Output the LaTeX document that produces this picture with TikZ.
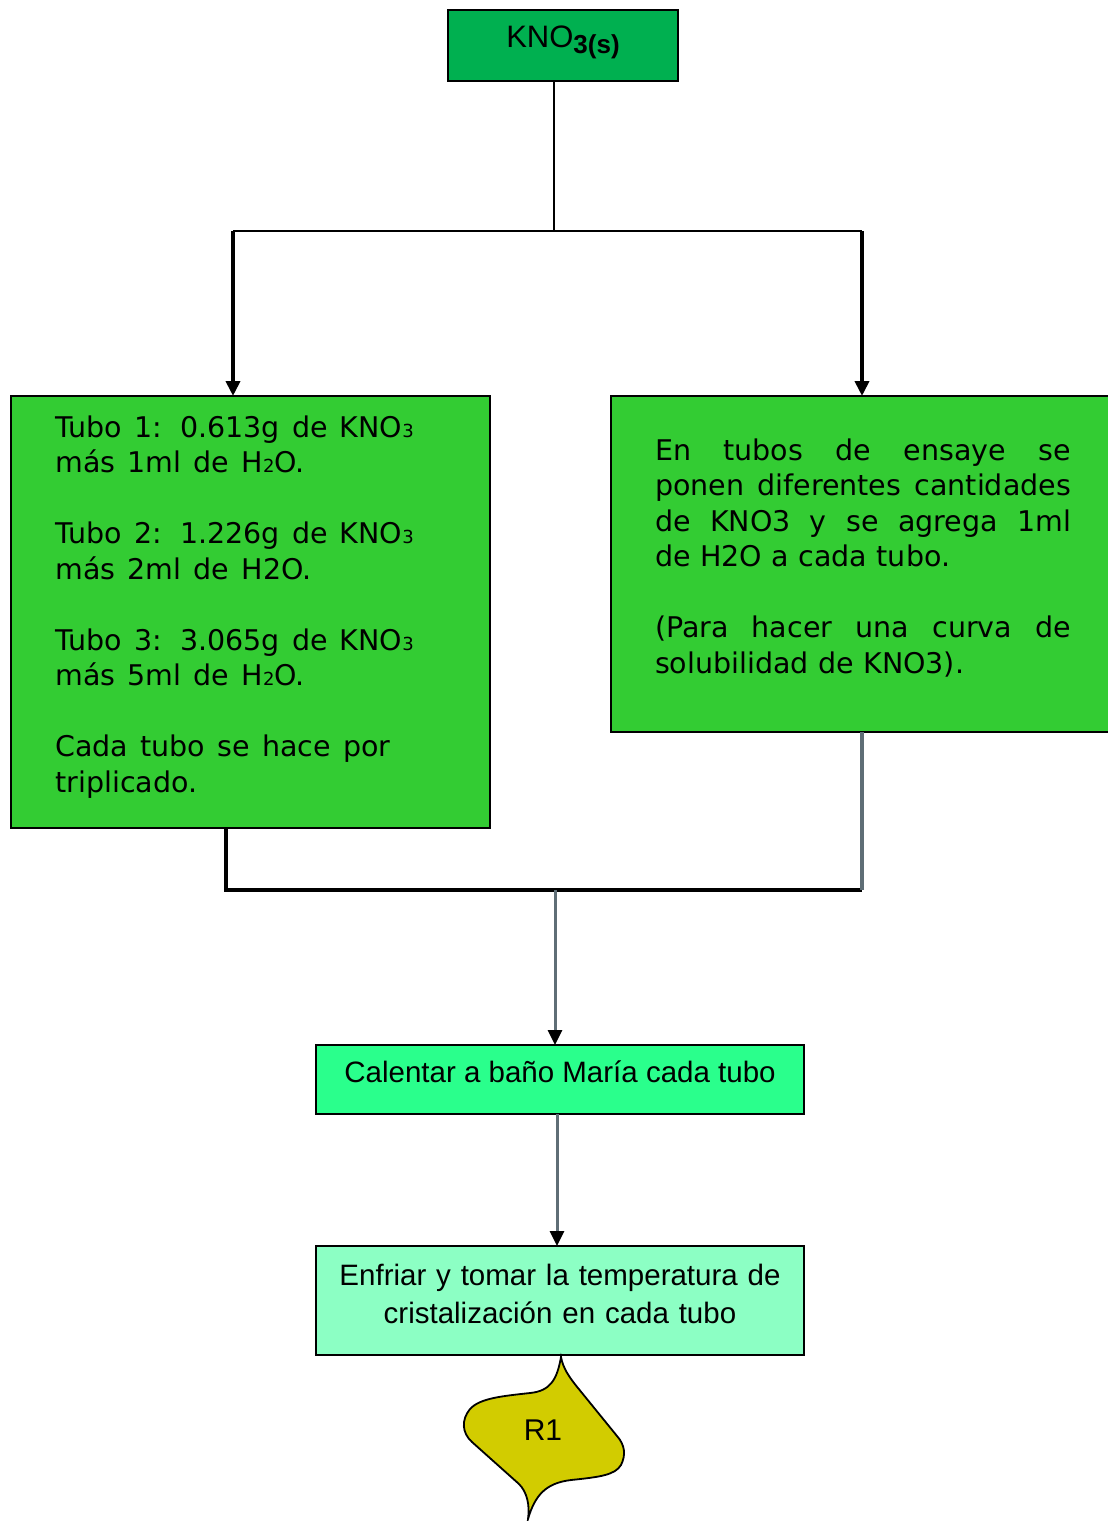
\documentclass[tikz,border=0pt]{standalone}
\usepackage{fontspec}
\setmainfont{DejaVu Sans}
\newfontfamily\arialish{Liberation Sans}
\usetikzlibrary{arrows.meta}

\definecolor{knogreen}{RGB}{0,176,80}
\definecolor{boxgreen}{RGB}{51,204,51}
\definecolor{heatgreen}{RGB}{42,255,140}
\definecolor{coolgreen}{RGB}{140,255,196}
\definecolor{tapeyellow}{RGB}{210,204,0}
\definecolor{linegray}{RGB}{95,110,118}

% small digit used for the chemical formulas
\newcommand\lowsub[1]{{\fontsize{18}{18}\selectfont #1}}
% a line stretched to the full text width
\newcommand\fullline[1]{\makebox[416pt]{#1}}

\begin{document}
\begin{tikzpicture}[x=1pt,y=-1pt,
  stepbox/.style={draw=black,line width=2.5pt,inner sep=0pt,outer sep=0pt,anchor=north west},
  bodytext/.style={font=\fontsize{28.5}{35.5}\selectfont,text height=21.7pt},
  thinline/.style={draw=black,line width=2.5pt},
  joinline/.style={draw=black,line width=3.5pt},
  grayjoin/.style={draw=linegray,line width=3.5pt},
  downarrow/.style={draw=black,line width=4pt,-{Triangle[length=15pt,width=14pt]}},
  grayarrow/.style={draw=linegray,line width=3pt,-{Triangle[length=15pt,width=14pt,color=black]}}]

\clip (0,0) rectangle (1108,1521);
\fill[white] (0,0) rectangle (1108,1521);

% starting salt
\node[stepbox,fill=knogreen,minimum width=230pt,minimum height=71pt,
      font=\arialish\fontsize{31}{36}\selectfont,text height=22pt,text depth=19pt]
  (kno) at (448,10) {KNO\raisebox{-6pt}{\fontsize{26}{30}\selectfont\bfseries 3(s)}};

% the two ways of preparing the tubes
\node[stepbox,fill=boxgreen,minimum width=479pt,minimum height=432pt,
      text width=390pt,align=left,bodytext,text depth=371.7pt]
  (left) at (11,396) {\spaceskip=0.43em plus 0.1em\relax
Tubo 1:\hspace{18pt}0.613g de KNO\lowsub{3}\\
más 1ml de H\lowsub{2}O.\\[35.5pt]
Tubo 2:\hspace{18pt}1.226g de KNO\lowsub{3}\\
más 2ml de H2O.\\[35.5pt]
Tubo 3:\hspace{18pt}3.065g de KNO\lowsub{3}\\
más 5ml de H\lowsub{2}O.\\[35.5pt]
Cada tubo se hace por\\
triplicado.};

\node[stepbox,fill=boxgreen,minimum width=504pt,minimum height=336pt,
      text width=416pt,align=left,bodytext,text depth=229.7pt]
  (right) at (611,396) {%
\fullline{En\hfill tubos\hfill de\hfill ensaye\hfill se}\\
\fullline{ponen\hfill diferentes\hfill cantidades}\\
\fullline{de\hfill KNO3\hfill y\hfill se\hfill agrega\hfill 1ml}\\
de H2O a cada tubo.\\[35.5pt]
\fullline{(Para\hfill hacer\hfill una\hfill curva\hfill de}\\
solubilidad de KNO3).};

% heating and cooling
\node[stepbox,fill=heatgreen,minimum width=488pt,minimum height=69pt,
      font=\arialish\fontsize{29.5}{38}\selectfont,text height=21pt,text depth=16pt]
  (heat) at (316,1045) {Calentar a baño María cada tubo};

\node[stepbox,fill=coolgreen,minimum width=488pt,minimum height=109pt,
      text width=470pt,align=center,
      font=\arialish\fontsize{29.5}{38}\selectfont,text height=21.5pt,text depth=52.5pt]
  (cool) at (316,1246) {Enfriar y tomar la temperatura de\\cristalización en cada tubo};

% result tape
\filldraw[fill=tapeyellow,draw=black,line width=1.8pt]
  (561,1357) .. controls (557,1380) and (550,1391) .. (530,1393)
  .. controls (503,1396) and (480,1398) .. (470,1409)
  .. controls (461,1420) and (462,1433) .. (472,1442)
  -- (519,1484)
  .. controls (527,1492) and (530,1505) .. (528,1519)
  .. controls (535,1495) and (546,1483) .. (571,1480)
  .. controls (600,1477) and (615,1475) .. (621,1465)
  .. controls (626,1455) and (625,1445) .. (617,1436)
  -- (578,1388)
  .. controls (569,1377) and (563,1368) .. (561,1357) -- cycle;
\node[font=\arialish\fontsize{30}{36}\selectfont,inner sep=0pt] (r1) at (543,1430) {R1};

% split below the salt
\coordinate (split) at (554,231);
\coordinate (lsplit) at (233,231);
\coordinate (rsplit) at (862,231);
\draw[thinline] (split |- kno.south) -- (split);
\draw[thinline] (lsplit) -- (rsplit);
\draw[downarrow] (lsplit) -- (lsplit |- left.north);
\draw[downarrow] (rsplit) -- (rsplit |- right.north);

% join above the heating step
\coordinate (ljoin) at (226,890);
\coordinate (rjoin) at (862,890);
\coordinate (mjoin) at (555,890);
\draw[joinline] (ljoin |- left.south) -- (ljoin) -- (rjoin);
\draw[grayjoin] (rjoin |- right.south) -- (rjoin);
\draw[grayarrow] (mjoin) -- (mjoin |- heat.north);

\coordinate (hx) at (557,0);
\draw[grayarrow] (hx |- heat.south) -- (hx |- cool.north);

\end{tikzpicture}
\end{document}
